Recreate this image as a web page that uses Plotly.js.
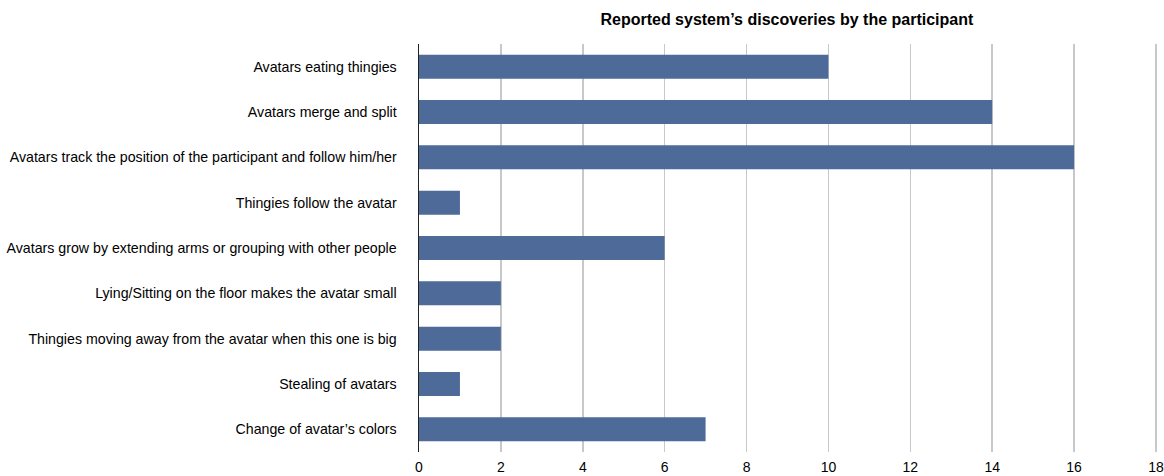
<!DOCTYPE html>
<html>
<head>
<meta charset="utf-8">
<script src="https://cdn.plot.ly/plotly-3.0.1.min.js"></script>
<style>
  html, body { margin: 0; padding: 0; background: #ffffff; }
  #chart { width: 1164px; height: 476px; }
</style>
</head>
<body>
<div id="chart"></div>
<script>
// Discoveries reported by participants, top to bottom
const discoveries = [
  "Avatars eating thingies",
  "Avatars merge and split",
  "Avatars track the position of the participant and follow him/her",
  "Thingies follow the avatar",
  "Avatars grow by extending arms or grouping with other people",
  "Lying/Sitting on the floor makes the avatar small",
  "Thingies moving away from the avatar when this one is big",
  "Stealing of avatars",
  "Change of avatar\u2019s colors"
];
const counts = [10, 14, 16, 1, 6, 2, 2, 1, 7];
const xTicks = [0, 2, 4, 6, 8, 10, 12, 14, 16, 18];

const font = "'Liberation Sans', Arial, Helvetica, sans-serif";

const trace = {
  type: "bar",
  orientation: "h",
  x: counts,
  y: discoveries,
  marker: { color: "#4d6a99", line: { width: 0 } },
  hoverinfo: "x+y"
};

const layout = {
  width: 1164,
  height: 476,
  margin: { l: 419, r: 6, t: 44, b: 24 },
  paper_bgcolor: "#ffffff",
  plot_bgcolor: "#ffffff",
  bargap: 0.47,
  showlegend: false,
  title: {
    text: "<b>Reported system\u2019s discoveries by the participant</b>",
    font: { family: font, size: 16, color: "#000000" },
    x: 0.676, xanchor: "center",
    y: 0.96, yanchor: "middle"
  },
  xaxis: {
    range: [0, 18.05],
    tickvals: xTicks,
    ticktext: xTicks.map(String),
    showgrid: true,
    gridcolor: "#c8c8c8",
    gridwidth: 1.5,
    zeroline: false,
    showline: false,
    ticks: "",
    tickfont: { family: font, size: 14, color: "#000000" },
    ticklabelstandoff: 5,
    fixedrange: true
  },
  yaxis: {
    type: "category",
    autorange: "reversed",
    showgrid: false,
    zeroline: false,
    showline: true,
    linecolor: "#222222",
    linewidth: 1.5,
    ticks: "",
    tickfont: { family: font, size: 14.2, color: "#000000" },
    ticklabelstandoff: 18,
    fixedrange: true
  }
};

Plotly.newPlot("chart", [trace], layout, { displayModeBar: false, staticPlot: true });
</script>
</body>
</html>
